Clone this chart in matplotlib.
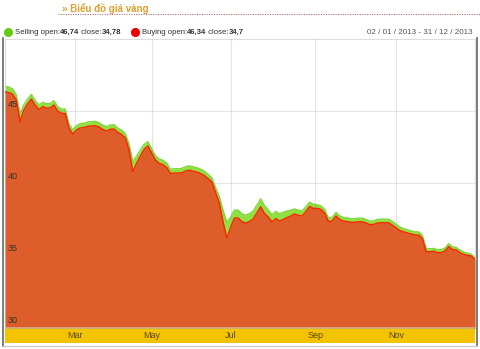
import numpy as np
import pandas as pd
import matplotlib.pyplot as plt
import matplotlib.transforms as mtransforms
from matplotlib.lines import Line2D
from matplotlib.patches import Rectangle

# trading calendar 2013 (weekends + VN holidays removed)
holidays = ['2013-02-11', '2013-02-12', '2013-02-13', '2013-02-14', '2013-02-15',
            '2013-04-19', '2013-04-30', '2013-05-01', '2013-09-02']
days = pd.bdate_range('2013-01-02', '2013-12-31', freq='C', holidays=holidays)

# prices sampled every 2nd trading day (million VND / tael)
buying = [46.34, 46.28, 46.18, 45.76, 44.26, 45.07, 45.49, 45.83, 45.42, 45.10,
          45.30, 45.21, 45.21, 45.42, 45.00, 44.84, 44.83, 43.82, 43.40, 43.68,
          43.82, 43.85, 43.94, 43.96, 43.98, 43.89, 43.72, 43.61, 43.73, 43.75,
          43.51, 43.37, 43.13, 42.29, 40.78, 41.37, 41.88, 42.33, 42.57, 42.08,
          41.60, 41.37, 41.28, 41.08, 40.66, 40.69, 40.69, 40.71, 40.83, 40.89,
          40.83, 40.76, 40.66, 40.52, 40.31, 40.07, 39.34, 38.61, 37.29, 36.18,
          36.91, 37.57, 37.57, 37.31, 37.22, 37.33, 37.50, 37.92, 38.35, 37.88,
          37.64, 37.29, 37.53, 37.36, 37.47, 37.60, 37.71, 37.85, 37.76, 37.71,
          38.02, 38.37, 38.24, 38.24, 38.16, 37.92, 37.33, 37.36, 37.71, 37.47,
          37.36, 37.32, 37.27, 37.27, 37.31, 37.31, 37.22, 37.11, 37.12, 37.22,
          37.24, 37.24, 37.24, 37.08, 36.88, 36.70, 36.61, 36.53, 36.46, 36.39,
          36.39, 36.15, 35.24, 35.23, 35.26, 35.17, 35.17, 35.28, 35.59, 35.38,
          35.35, 35.17, 35.04, 34.98, 34.93, 34.70]
selling = [46.74, 46.66, 46.54, 46.11, 44.80, 45.42, 45.82, 46.15, 45.74, 45.42,
           45.60, 45.51, 45.51, 45.72, 45.30, 45.14, 45.13, 44.12, 43.70, 43.98,
           44.12, 44.15, 44.24, 44.26, 44.28, 44.19, 44.02, 43.91, 44.03, 44.05,
           43.81, 43.67, 43.43, 42.69, 41.48, 41.87, 42.28, 42.68, 42.87, 42.38,
           41.90, 41.67, 41.58, 41.38, 40.96, 40.99, 40.99, 41.01, 41.13, 41.19,
           41.13, 41.06, 40.96, 40.82, 40.61, 40.37, 39.69, 39.06, 38.09, 37.28,
           37.61, 38.12, 38.12, 37.86, 37.77, 37.88, 38.05, 38.47, 38.90, 38.43,
           38.14, 37.79, 38.03, 37.86, 37.97, 38.05, 38.11, 38.20, 38.11, 38.06,
           38.34, 38.67, 38.52, 38.50, 38.41, 38.17, 37.58, 37.61, 37.96, 37.72,
           37.61, 37.57, 37.52, 37.52, 37.56, 37.56, 37.47, 37.36, 37.37, 37.47,
           37.49, 37.49, 37.49, 37.33, 37.13, 36.95, 36.83, 36.75, 36.68, 36.61,
           36.61, 36.37, 35.44, 35.43, 35.46, 35.37, 35.37, 35.48, 35.79, 35.56,
           35.53, 35.34, 35.20, 35.13, 35.05, 34.78]
y_ticks = [30, 35, 40, 45]
month_labels = ['Mar', 'May', 'Jul', 'Sep', 'Nov']
month_nums = [3, 5, 7, 9, 11]

W, H = 480, 349
fig = plt.figure(figsize=(W / 100, H / 100), dpi=100)
plt.rcParams['font.family'] = ['Liberation Sans', 'DejaVu Sans']

def fx(px):
    return px / W

def fy(py):
    return 1 - py / H

ax = fig.add_axes([fx(5), fy(327), fx(475) - fx(5), fy(39) - fy(327)])

pos = np.arange(len(days))
x = pos[::2]

green = '#8fe040'
orange = '#de5e2b'
ax.fill_between(x, 30, selling, color=green, lw=0, zorder=1)
ax.plot(x, selling, color='#7fd838', lw=1.0, zorder=2)
ax.fill_between(x, 30, buying, color=orange, lw=0, zorder=3)
ax.plot(x, buying, color='#ff2200', lw=1.0, zorder=4)

ax.set_xlim(0, pos[-1])
ax.set_ylim(30, 50)

month_pos = [int(np.argmax(days.month == m)) for m in month_nums]
ax.set_xticks(month_pos)
ax.set_yticks(y_ticks)
ax.tick_params(length=0, labelbottom=False, labelleft=False)
ax.grid(True, color='#999999', alpha=0.25, lw=0.8, zorder=5)
ax.set_axisbelow(False)
for s in ax.spines.values():
    s.set_color('#dddddd')
    s.set_linewidth(0.8)

# y labels inside the plot
for v in y_ticks:
    ax.text(0.005, v + 0.12, str(v), transform=ax.get_yaxis_transform(),
            fontsize=6.5, color='#333333', va='bottom', ha='left', zorder=6)

# yellow x band with month labels
fig.add_artist(Rectangle((fx(5), fy(343)), fx(475) - fx(5), fy(328) - fy(343),
                         transform=fig.transFigure, facecolor='#f4c300',
                         edgecolor='none', zorder=-2))
fig.add_artist(Line2D([fx(5), fx(475)], [fy(328), fy(328)], color='#c9b060',
                      lw=0.8, zorder=-1))
band = mtransforms.blended_transform_factory(ax.transData, fig.transFigure)
for p, lab in zip(month_pos, month_labels):
    ax.text(p, fy(336), lab, transform=band, ha='center', va='center',
            fontsize=6.5, color='#5a4800', clip_on=False)

# outer frame
fig.add_artist(Line2D([fx(3), fx(3)], [fy(38), fy(346)], color='#666666', lw=1.2))
fig.add_artist(Line2D([fx(477), fx(477)], [fy(38), fy(346)], color='#666666', lw=1.2))
fig.add_artist(Line2D([fx(3), fx(477)], [fy(346), fy(346)], color='#cccccc', lw=1.0))

# title
fig.text(fx(62), fy(8), '» Biểu đồ giá vàng', fontsize=7, fontweight='bold',
         color='#e0a030', va='center', ha='left')
fig.add_artist(Line2D([fx(58), fx(480)], [fy(13.5), fy(13.5)], color='#b05050',
                      lw=0.7, ls=(0, (1, 1.5))))

# legend row
fig.add_artist(Line2D([fx(8)], [fy(32)], marker='o', ms=5.5, color='#66cc11', lw=0))
fig.add_artist(Line2D([fx(135)], [fy(32)], marker='o', ms=5.5, color='#ee0000', lw=0))

def chain(start_px, parts):
    t = fig.text(fx(start_px), fy(32), parts[0][0], fontsize=5.6,
                 fontweight=parts[0][1], color='#333333', va='center', ha='left')
    for s, w in parts[1:]:
        t = ax.annotate(s, xy=(1, 0), xycoords=t, va='bottom', ha='left',
                        fontsize=5.6, fontweight=w, color='#333333',
                        annotation_clip=False)

chain(15, [('Selling open:', 'normal'), ('46,74', 'bold'),
           (' close:', 'normal'), ('34,78', 'bold')])
chain(142, [('Buying open:', 'normal'), ('46,34', 'bold'),
            (' close:', 'normal'), ('34,7', 'bold')])
fig.text(fx(473), fy(32), '02 / 01 / 2013 - 31 / 12 / 2013', fontsize=5.8,
         color='#555555', va='center', ha='right')

fig.savefig('out.png', dpi=100)
